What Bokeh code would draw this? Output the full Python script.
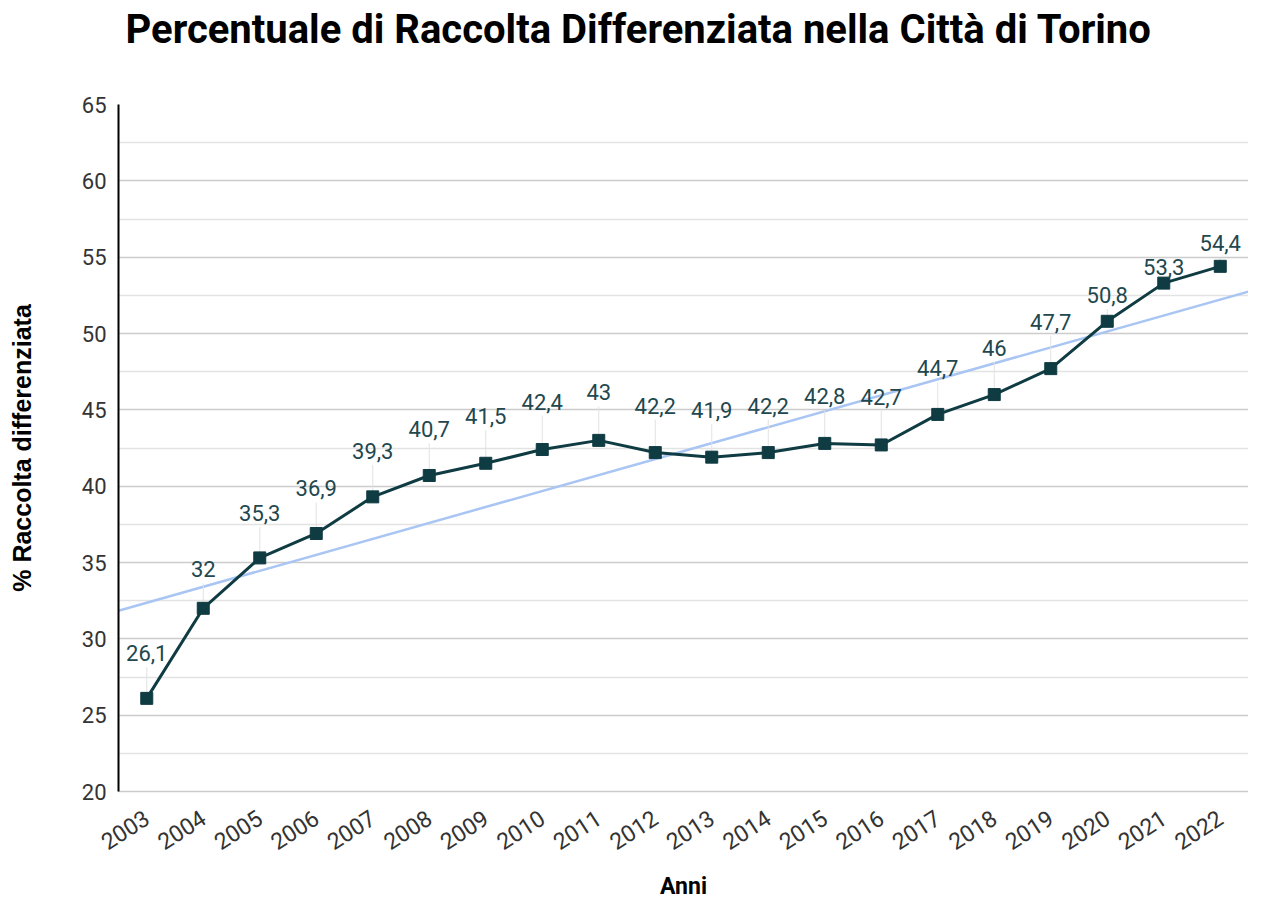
import math
import numpy as np
from bokeh.plotting import figure
from bokeh.models import ColumnDataSource, FixedTicker, Title, BasicTickFormatter
from bokeh.core.properties import value
from bokeh.embed import file_html
from bokeh.resources import INLINE

# ---- data ----
years = [2003, 2004, 2005, 2006, 2007, 2008, 2009, 2010, 2011, 2012,
         2013, 2014, 2015, 2016, 2017, 2018, 2019, 2020, 2021, 2022]
percent = [26.1, 32.0, 35.3, 36.9, 39.3, 40.7, 41.5, 42.4, 43.0, 42.2,
           41.9, 42.2, 42.8, 42.7, 44.7, 46.0, 47.7, 50.8, 53.3, 54.4]
labels = ["26,1", "32", "35,3", "36,9", "39,3", "40,7", "41,5", "42,4", "43", "42,2",
          "41,9", "42,2", "42,8", "42,7", "44,7", "46", "47,7", "50,8", "53,3", "54,4"]
y_ticks = [20, 25, 30, 35, 40, 45, 50, 55, 60, 65]
title_text = "Percentuale di Raccolta Differenziata nella Città di Torino"
x_title = "Anni"
y_title = "% Raccolta differenziata"

# ---- style / layout (pixels) ----
label_offsets_px = [45, 39, 45, 45, 46, 46, 47, 48, 48, 47,
                    47, 47, 47, 48, 46, 47, 47, 26, 16, 23]
W, H = 1248, 903
B_LEFT, B_RIGHT, B_TOP, B_BOTTOM = 118, 0, 104, 112
FRAME_H = H - B_TOP - B_BOTTOM
Y0, Y1 = 20, 65
X0, X1 = years[0] - 0.5, years[-1] + 0.5
px_per_unit = FRAME_H / (Y1 - Y0)

LINE_COLOR = "#0f3b42"
LABEL_COLOR = "#22474e"
TREND_COLOR = "#a9c5f3"
FONT = "Roboto"

p = figure(width=W, height=H, x_range=(X0, X1), y_range=(Y0, Y1),
           output_backend="svg", toolbar_location=None,
           min_border_left=B_LEFT, min_border_right=B_RIGHT,
           min_border_top=B_TOP, min_border_bottom=B_BOTTOM)
p.outline_line_color = None
p.background_fill_color = "white"
p.border_fill_color = "white"

# title (an empty second line keeps it high above the plot area)
p.title = Title(text=title_text + "\n ", align="left", offset=7, vertical_align="top",
                text_font=FONT, text_font_style="bold", text_font_size="40px",
                text_color="#000000", standoff=6)

# grid
p.xgrid.grid_line_color = None
p.ygrid.ticker = FixedTicker(ticks=y_ticks, minor_ticks=[v + 2.5 for v in y_ticks[:-1]])
p.ygrid.grid_line_color = "#cccccc"
p.ygrid.grid_line_width = 1.5
p.ygrid.minor_grid_line_color = "#e3e3e3"
p.ygrid.minor_grid_line_width = 1.5

# y axis
p.yaxis.ticker = FixedTicker(ticks=y_ticks)
p.yaxis.axis_line_color = "#000000"
p.yaxis.axis_line_width = 2
p.yaxis.major_tick_line_color = None
p.yaxis.minor_tick_line_color = None
p.yaxis.major_label_text_font = FONT
p.yaxis.major_label_text_font_size = "22px"
p.yaxis.major_label_text_color = "#333333"
p.yaxis.major_label_standoff = 6
p.yaxis.axis_label = y_title
p.yaxis.axis_label_text_font = "Liberation Sans"
p.yaxis.axis_label_text_font_style = "bold"
p.yaxis.axis_label_text_font_size = "25px"
p.yaxis.axis_label_text_color = "#000000"
p.yaxis.axis_label_standoff = 43

# x axis
p.xaxis.ticker = FixedTicker(ticks=years)
p.xaxis.formatter = BasicTickFormatter(use_scientific=False)
p.xaxis.axis_line_color = "#cccccc"
p.xaxis.axis_line_width = 1.5
p.xaxis.major_tick_line_color = None
p.xaxis.minor_tick_line_color = None
p.xaxis.major_label_orientation = math.radians(33)
p.xaxis.major_label_text_font = FONT
p.xaxis.major_label_text_font_size = "23px"
p.xaxis.major_label_text_color = "#333333"
p.xaxis.major_label_standoff = 18
p.xaxis.axis_label = x_title
p.xaxis.axis_label_text_font = FONT
p.xaxis.axis_label_text_font_style = "bold"
p.xaxis.axis_label_text_font_size = "23px"
p.xaxis.axis_label_text_color = "#000000"
p.xaxis.axis_label_standoff = 12

# trendline (least squares fit of the series)
slope, intercept = np.polyfit(years, percent, 1)
tx = [X0, X1]
p.line(tx, [slope * x + intercept for x in tx], line_color=TREND_COLOR, line_width=2.5)

# data label leader lines
src = ColumnDataSource(dict(
    x=years, y=percent, label=labels,
    yoff=[-o for o in label_offsets_px],
    ylead=[v + (o - 14) / px_per_unit for v, o in zip(percent, label_offsets_px)],
))
p.segment(x0="x", y0="y", x1="x", y1="ylead", source=src, line_color="#e2e2e2", line_width=1)

# series
p.line("x", "y", source=src, line_color=LINE_COLOR, line_width=3)
p.scatter("x", "y", source=src, marker="square", size=12, fill_color=LINE_COLOR, line_color=LINE_COLOR)

p.text("x", "y", text="label", source=src, y_offset="yoff",
       text_align="center", text_baseline="middle",
       text_font=value(FONT), text_font_size="22px", text_color=LABEL_COLOR)

open("out.html", "w").write(file_html(p, INLINE))
